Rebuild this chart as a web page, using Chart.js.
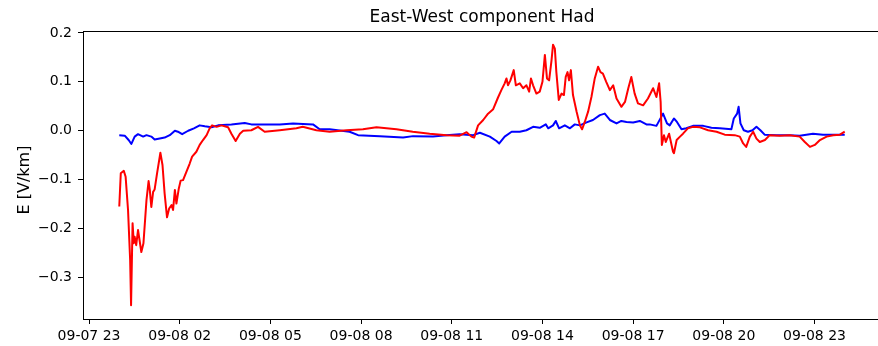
<!DOCTYPE html>
<html>
<head>
<meta charset="utf-8">
<title>East-West component Had</title>
<script src="https://cdn.jsdelivr.net/npm/chart.js@4.4.1/dist/chart.umd.min.js"></script>
<style>
  html, body { margin: 0; padding: 0; background: #fff; overflow: hidden; }
  #wrap { width: 878px; height: 346px; overflow: hidden; }
  canvas { display: block; }
</style>
</head>
<body>
<div id="wrap"><canvas id="ewChart" width="884" height="346"></canvas></div>
<script>
// time axis: hours after 09-08 00:00
const redHours = [
  0.00, 0.05, 0.15, 0.21, 0.29, 0.36, 0.39, 0.44, 0.48, 0.51, 0.56, 0.62, 0.73, 0.80, 0.90, 0.97,
  1.01, 1.06, 1.12, 1.17, 1.25, 1.36, 1.43, 1.50, 1.58, 1.65, 1.73, 1.78, 1.84, 1.89, 1.97,
  2.03, 2.11, 2.22, 2.33, 2.41, 2.55, 2.66, 2.77, 2.89, 2.99, 3.07, 3.22, 3.38, 3.60, 3.71, 3.85, 3.99,
  4.10, 4.37, 4.59, 4.81, 5.31, 5.86, 6.07, 6.52, 6.96, 7.52, 8.06, 8.51, 9.17, 9.71,
  10.27, 10.83, 11.26, 11.49, 11.65, 11.74, 11.87, 12.04, 12.20, 12.37, 12.53, 12.64, 12.75, 12.81,
  12.86, 12.94, 13.05, 13.12, 13.25, 13.36, 13.47, 13.56, 13.62, 13.69, 13.80, 13.91,
  14.00, 14.08, 14.15, 14.22, 14.30, 14.35, 14.41, 14.46, 14.54, 14.63, 14.71, 14.77, 14.83, 14.88, 14.94,
  15.01, 15.13, 15.24, 15.31, 15.40, 15.51, 15.62, 15.73, 15.84, 15.92,
  16.00, 16.11, 16.23, 16.34, 16.45, 16.61, 16.73, 16.84, 16.94, 17.05, 17.16, 17.33, 17.49, 17.66, 17.77, 17.86, 17.91, 17.95,
  18.02, 18.08, 18.19, 18.32, 18.35, 18.44, 18.55, 18.65, 18.81, 18.98, 19.21, 19.48, 19.76,
  20.03, 20.36, 20.53, 20.64, 20.74, 20.86, 20.97, 21.08, 21.19, 21.36, 21.52, 21.85,
  22.18, 22.51, 22.68, 22.85, 23.01, 23.18, 23.40, 23.62, 23.84, 24.00
];
const redValues = [
  -0.155, -0.087, -0.082, -0.094, -0.162, -0.265, -0.357, -0.189, -0.230, -0.217, -0.234, -0.203, -0.248, -0.230, -0.142, -0.103,
  -0.121, -0.156, -0.125, -0.120, -0.087, -0.045, -0.070, -0.128, -0.177, -0.159, -0.152, -0.162, -0.121, -0.149, -0.118,
  -0.102, -0.101, -0.084, -0.067, -0.053, -0.043, -0.029, -0.019, -0.009, 0.005, 0.011, 0.008, 0.011, 0.007, -0.006, -0.021, -0.006,
  0.000, 0.001, 0.008, -0.002, 0.001, 0.005, 0.008, 0.001, -0.002, 0.001, 0.003, 0.007, 0.003, -0.002,
  -0.006, -0.009, -0.010, -0.003, -0.012, -0.014, 0.011, 0.022, 0.035, 0.044, 0.068, 0.083, 0.097, 0.107,
  0.093, 0.103, 0.124, 0.093, 0.097, 0.087, 0.093, 0.080, 0.107, 0.093, 0.076, 0.080,
  0.100, 0.155, 0.107, 0.103, 0.144, 0.176, 0.168, 0.120, 0.063, 0.076, 0.073, 0.110, 0.120, 0.103, 0.124,
  0.073, 0.039, 0.011, 0.003, 0.018, 0.039, 0.069, 0.107, 0.131, 0.120,
  0.117, 0.100, 0.083, 0.093, 0.066, 0.049, 0.059, 0.087, 0.110, 0.076, 0.056, 0.052, 0.066, 0.087, 0.069, 0.097, 0.059, -0.029,
  -0.009, -0.023, -0.006, -0.043, -0.046, -0.019, -0.012, -0.006, 0.005, 0.008, 0.007, 0.001, -0.002,
  -0.008, -0.009, -0.012, -0.026, -0.033, -0.012, -0.002, -0.016, -0.023, -0.019, -0.009, -0.010,
  -0.009, -0.012, -0.023, -0.033, -0.029, -0.019, -0.012, -0.009, -0.008, -0.002
];
const blueHours = [
  0.00, 0.18, 0.31, 0.40, 0.51, 0.62, 0.79, 0.90, 1.06, 1.17, 1.34, 1.50, 1.67, 1.84, 1.94,
  2.08, 2.28, 2.47, 2.66, 2.83, 3.05, 3.27, 3.71, 4.15, 4.37, 4.81, 5.31, 5.75, 6.41, 6.63, 6.96,
  7.62, 7.90, 8.62, 9.39, 9.72, 10.38, 10.82, 11.26, 11.71, 11.93, 12.26, 12.48, 12.57, 12.75, 12.98,
  13.25, 13.47, 13.69, 13.91, 14.11, 14.19, 14.35, 14.44, 14.55, 14.74, 14.91, 15.07, 15.24, 15.46, 15.67, 15.90,
  16.06, 16.23, 16.45, 16.61, 16.78, 17.00, 17.22, 17.44, 17.55, 17.77, 17.99, 18.12, 18.21, 18.35, 18.45, 18.60, 18.76, 18.98,
  19.32, 19.59, 19.87, 20.25, 20.33, 20.44, 20.49, 20.55, 20.66, 20.80, 20.95, 21.08, 21.21, 21.35, 21.74,
  22.18, 22.51, 22.73, 22.95, 23.28, 23.62, 24.00
];
const blueValues = [
  -0.009, -0.010, -0.019, -0.027, -0.012, -0.007, -0.012, -0.009, -0.012, -0.018, -0.016, -0.014, -0.009, 0.000, -0.002,
  -0.007, 0.000, 0.005, 0.011, 0.009, 0.007, 0.011, 0.013, 0.016, 0.013, 0.013, 0.013, 0.015, 0.013, 0.003, 0.003,
  -0.002, -0.009, -0.011, -0.014, -0.011, -0.012, -0.009, -0.007, -0.009, -0.004, -0.012, -0.021, -0.026, -0.012, -0.002,
  -0.002, 0.001, 0.008, 0.006, 0.013, 0.005, 0.011, 0.020, 0.005, 0.011, 0.005, 0.013, 0.011, 0.017, 0.022, 0.032,
  0.035, 0.022, 0.015, 0.020, 0.018, 0.017, 0.020, 0.013, 0.013, 0.010, 0.035, 0.015, 0.011, 0.025, 0.018, 0.003, 0.005, 0.010,
  0.010, 0.006, 0.005, 0.003, 0.025, 0.035, 0.049, 0.015, 0.001, -0.002, 0.001, 0.008, 0.001, -0.008, -0.009,
  -0.009, -0.010, -0.008, -0.006, -0.008, -0.008, -0.008
];

const xTickHours = [-1, 2, 5, 8, 11, 14, 17, 20, 23];
const xTickLabels = ['09-07 23', '09-08 02', '09-08 05', '09-08 08', '09-08 11', '09-08 14', '09-08 17', '09-08 20', '09-08 23'];
const yTickValues = [-0.3, -0.2, -0.1, 0.0, 0.1, 0.2];
const yTickLabels = ['\u22120.3', '\u22120.2', '\u22120.1', '0.0', '0.1', '0.2'];

const FONT = "'DejaVu Sans', sans-serif";

function toPoints(xs, ys) {
  return xs.map((x, i) => ({ x: x, y: ys[i] }));
}

// axes frame, title and y label drawn like a plain matplotlib figure
const frameAndText = {
  id: 'frameAndText',
  afterDraw(chart) {
    const ctx = chart.ctx;
    const a = chart.chartArea;
    ctx.save();
    ctx.strokeStyle = '#000';
    ctx.lineWidth = 1;
    ctx.strokeRect(Math.round(a.left) + 0.5, Math.round(a.top) + 0.5,
      Math.round(a.right - a.left), Math.round(a.bottom - a.top));

    ctx.fillStyle = '#000';
    ctx.font = '17px ' + FONT;
    ctx.textAlign = 'center';
    ctx.textBaseline = 'alphabetic';
    ctx.fillText('East-West component Had', (a.left + a.right) / 2, 22);

    ctx.font = '16px ' + FONT;
    ctx.translate(25, 180);
    ctx.rotate(-Math.PI / 2);
    ctx.textBaseline = 'middle';
    ctx.fillText('E [V/km]', 0, 0);
    ctx.restore();
  }
};

new Chart(document.getElementById('ewChart'), {
  type: 'line',
  data: {
    datasets: [
      {
        label: 'Had red',
        data: toPoints(redHours, redValues),
        borderColor: '#ff0000',
        borderWidth: 2,
        pointRadius: 0,
        tension: 0,
        borderJoinStyle: 'round',
        fill: false
      },
      {
        label: 'Had blue',
        data: toPoints(blueHours, blueValues),
        borderColor: '#0000ff',
        borderWidth: 2,
        pointRadius: 0,
        tension: 0,
        borderJoinStyle: 'round',
        fill: false
      }
    ]
  },
  options: {
    responsive: false,
    animation: false,
    layout: { padding: { top: 31, right: 3, left: 0, bottom: 0 } },
    plugins: {
      legend: { display: false },
      title: { display: false },
      tooltip: { enabled: false }
    },
    scales: {
      x: {
        type: 'linear',
        min: -1.2,
        max: 25.2,
        afterBuildTicks(scale) {
          scale.ticks = xTickHours.map(v => ({ value: v }));
        },
        afterFit(scale) { scale.height = 27; },
        grid: { drawOnChartArea: false, drawTicks: true, tickLength: 5, color: '#000' },
        border: { display: false },
        ticks: {
          color: '#000',
          padding: 4,
          maxRotation: 0,
          autoSkip: false,
          font: { family: FONT, size: 14 },
          callback: (v) => xTickLabels[xTickHours.indexOf(v)]
        }
      },
      y: {
        min: -0.385,
        max: 0.204,
        afterBuildTicks(scale) {
          scale.ticks = yTickValues.map(v => ({ value: v }));
        },
        afterFit(scale) { scale.width = 83; },
        grid: { drawOnChartArea: false, drawTicks: true, tickLength: 5, color: '#000' },
        border: { display: false },
        ticks: {
          color: '#000',
          padding: 6,
          autoSkip: false,
          font: { family: FONT, size: 14 },
          callback: (v) => yTickLabels[yTickValues.findIndex(t => Math.abs(t - v) < 1e-9)]
        }
      }
    }
  },
  plugins: [frameAndText]
});
</script>
</body>
</html>
